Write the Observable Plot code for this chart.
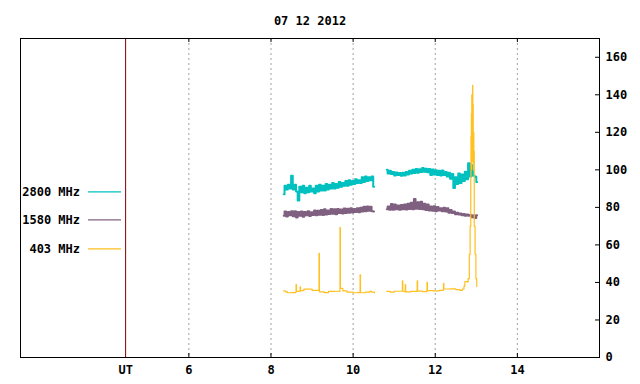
<!DOCTYPE html>
<html><head><meta charset="utf-8">
<script src="https://cdn.jsdelivr.net/npm/d3@7"></script>
<script src="https://cdn.jsdelivr.net/npm/@observablehq/plot@0.6"></script>
<style>body{margin:0;background:#fff}</style>
</head><body><div id="chart"></div>
<script>
const title = "07 12 2012";
const xTicks = [6, 8, 10, 12, 14];
const yTicks = [0, 20, 40, 60, 80, 100, 120, 140, 160];
const utPos = 4.46;
const seriesNames = ["2800 MHz", "1580 MHz", "403 MHz"];
const seriesColors = ["#00c0c0", "#806080", "#ffc020"];

// sample step (hours) and segment start times for 2800/1580 MHz
const step = 0.04;
const seg1Start = 8.31, seg2Start = 10.82;

const f2800_seg1 = [
  87, 91.5, 89.5, 92, 90, 96.9, 89.5, 92, 88.5, 83.7,
  91, 88, 91.5, 87.5, 90.5, 88, 91.5, 88.5, 90, 87.5,
  91.5, 88.5, 92, 89, 91.5, 89, 92.5, 89.5, 92, 90,
  93, 90, 92.5, 90.5, 93.5, 91, 93, 91.5, 94, 91.5,
  94.5, 92, 94, 92.5, 95, 93, 94.5, 93, 96, 93.5,
  96.5, 94, 96, 94.5, 96.5, 91
];
const f2800_seg2 = [
  100, 98, 99.5, 97.8, 98.8, 97, 98.6, 97.2, 98.3, 96.9,
  98.5, 97, 98.8, 97.5, 99.5, 98, 100, 98.3, 100.5, 98.5,
  100.3, 98.8, 101, 99, 100.6, 98.7, 100.5, 97.2, 100.2, 97.5,
  99.8, 97.3, 99.5, 97, 99.6, 97.3, 98.8, 96.5, 98.4, 95.2,
  97.8, 90.3, 96, 92.5, 98, 93, 97.5, 94, 99, 95,
  103.5, 96.5, 102.5, 97, 96.3, 93.5
];
const f1580_seg1 = [
  75.5, 77.8, 75.2, 77.5, 75.8, 77.9, 75.3, 78, 74.6, 77.6,
  75.5, 77.8, 75, 77.6, 75.8, 78, 75.4, 77.4, 75.9, 78.3,
  75.8, 78.2, 76.1, 78.6, 76, 79, 76.2, 78.4, 76.5, 79.1,
  76.6, 79, 76.4, 79.2, 77, 78.9, 76.8, 79.4, 77, 79.3,
  77.2, 79.5, 77.3, 79.2, 77.5, 79.6, 77.4, 79.8, 77.8, 80.3,
  78, 80.5, 78.2, 80.4, 78, 77.8
];
const f1580_seg2 = [
  79, 80.5, 78.8, 81.8, 78.8, 81.5, 79, 81, 78.7, 81.3,
  79, 81.5, 78.9, 82, 79.2, 82.5, 79, 84.5, 79.3, 82.8,
  79.2, 83, 79, 82, 78.6, 81.5, 78.4, 80.5, 78.2, 80.6,
  78, 80.2, 78.3, 79.6, 78, 79.8, 77.8, 79.5, 77.2, 78.6,
  77, 77.8, 76.3, 77.2, 76.2, 76.8, 75.8, 76.5, 75.6, 76.2,
  75.5, 76, 74.8, 75.8, 74.3, 75.8
];

const f403_seg1_t = [8.31, 8.35, 8.4, 8.5, 8.6, 8.61, 8.62, 8.7, 8.71, 8.72, 8.8, 8.95, 9.0, 9.16, 9.17, 9.18, 9.3, 9.4, 9.55, 9.67, 9.68, 9.69, 9.75, 9.85, 10.0, 10.1, 10.16, 10.17, 10.18, 10.3, 10.4, 10.45, 10.52];
const f403_seg1_v = [35.5, 35, 34.5, 34.6, 34.8, 38.8, 35.2, 35.4, 37.7, 35.6, 36.4, 36.5, 35.8, 35.8, 55.5, 35, 34.6, 35.2, 35.3, 35.2, 69.2, 36.8, 35.5, 34.8, 34.5, 34.6, 34.8, 44.1, 34.5, 34.8, 35.2, 34.8, 34.4];
const f403_seg2_t = [10.82, 10.9, 11.0, 11.19, 11.2, 11.21, 11.26, 11.27, 11.28, 11.4, 11.55, 11.56, 11.57, 11.7, 11.79, 11.8, 11.81, 11.95, 12.1, 12.19, 12.2, 12.21, 12.35, 12.5, 12.6, 12.66, 12.7, 12.72, 12.78, 12.8, 12.83, 12.85, 12.865, 12.87, 12.875, 12.88, 12.885, 12.89, 12.895, 12.9, 12.905, 12.91, 12.915, 12.92, 12.925, 12.93, 12.94, 12.95, 12.97, 12.99, 13.01];
const f403_seg2_v = [35.2, 34.8, 35.3, 35.4, 40.9, 35.3, 35, 38.8, 35, 35.2, 35.3, 40.9, 35.4, 35.1, 35.5, 40, 35.6, 35.5, 35.8, 35.9, 39.5, 36.5, 36.6, 36.2, 35.8, 36.5, 38, 40.5, 40.2, 42, 55, 70, 95, 118, 100, 130, 105, 140, 108, 138, 112, 145, 104, 135, 100, 120, 110, 70, 55, 42, 37.8];

const rows = [];
function addSeq(vals, start, name, seg) {
  vals.forEach((v, i) => rows.push({t: start + i * step, v, name, z: name + seg}));
}
function addPairs(ts, vs, name, seg) {
  ts.forEach((t, i) => rows.push({t, v: vs[i], name, z: name + seg}));
}
addSeq(f2800_seg1, seg1Start, seriesNames[0], 1);
addSeq(f2800_seg2, seg2Start, seriesNames[0], 2);
addSeq(f1580_seg1, seg1Start, seriesNames[1], 1);
addSeq(f1580_seg2, seg2Start, seriesNames[1], 2);
addPairs(f403_seg1_t, f403_seg1_v, seriesNames[2], 1);
addPairs(f403_seg2_t, f403_seg2_v, seriesNames[2], 2);

const W = 640, H = 384, mL = 20, mR = 41, mT = 38, mB = 27;
const frameW = W - mL - mR, frameH = H - mT - mB;
const font = "DejaVu Sans Mono";

const plot = Plot.plot({
  width: W, height: H,
  marginLeft: mL, marginRight: mR, marginTop: mT, marginBottom: mB,
  style: {fontFamily: font, fontSize: "12px", fontWeight: "bold", color: "black", background: "white"},
  x: {domain: [1.9, 16]},
  y: {domain: [0, 170]},
  color: {domain: seriesNames, range: seriesColors},
  marks: [
    Plot.ruleX(xTicks, {stroke: "#a0a0a0", strokeDasharray: "2,3"}),
    Plot.ruleX([utPos], {stroke: "#800000"}),
    Plot.ruleX(xTicks, {stroke: "black", insetBottom: frameH - 4}),
    Plot.ruleX(xTicks, {stroke: "black", insetTop: frameH - 4}),
    Plot.ruleY(yTicks, {stroke: "black", insetLeft: frameW - 4}),
    Plot.line(rows.filter(d => d.name !== seriesNames[2]), {x: "t", y: "v", z: "z", stroke: "name", strokeWidth: 2, curve: "step"}),
    Plot.line(rows.filter(d => d.name === seriesNames[2]), {x: "t", y: "v", z: "z", stroke: "name", strokeWidth: 1.2, curve: "step-after"}),
    Plot.frame({stroke: "black"}),
    Plot.axisY({anchor: "right", ticks: yTicks, tickSize: 0, tickPadding: 6, label: null, fontSize: 12}),
    Plot.axisX({ticks: [utPos, ...xTicks], tickSize: 0, tickPadding: 8, label: null,
      tickFormat: d => d === utPos ? "UT" : String(d), fontSize: 12}),
    Plot.text([title], {frameAnchor: "top", dy: -22, text: d => d, fontSize: 12, fontWeight: "bold"})
  ]
});
document.getElementById("chart").append(plot);

// legend (inside the frame, left side)
const svg = d3.select(plot);
const lg = svg.append("g");
const legendY = [191.3, 219.3, 248.3];
seriesNames.forEach((n, i) => {
  lg.append("text").attr("x", 80).attr("y", legendY[i]).attr("dy", "0.35em")
    .attr("text-anchor", "end").attr("font-family", font).attr("font-size", 12)
    .attr("font-weight", "bold").attr("fill", "black").text(n);
  lg.append("line").attr("x1", 88).attr("x2", 121).attr("y1", legendY[i] + 0.5).attr("y2", legendY[i] + 0.5)
    .attr("stroke", seriesColors[i]).attr("stroke-width", 1.2);
});
</script></body></html>
